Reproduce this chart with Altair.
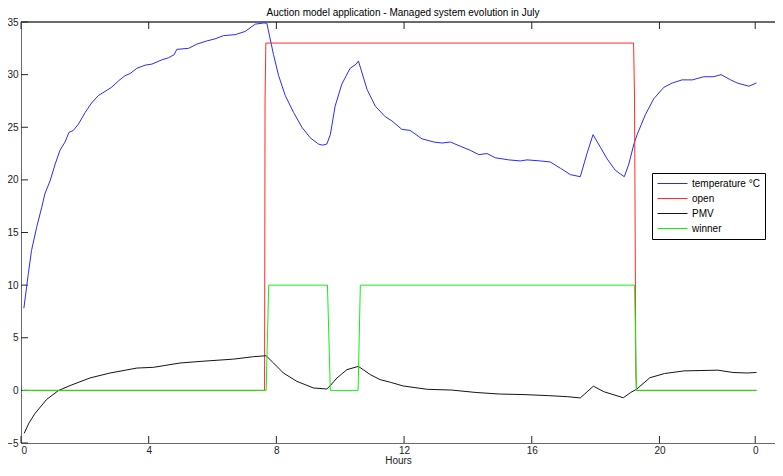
import altair as alt
import pandas as pd

TITLE = "Auction model application - Managed system evolution in July"
SERIES = ["temperature °C", "open", "PMV", "winner"]
COLORS = ["#2a2aff", "#ff2a2a", "#151515", "#10f010"]

X_TICKS = [0, 4, 8, 12, 16, 20, 23]
X_LABELS = ["0", "4", "8", "12", "16", "20", "0"]
Y_TICKS = [-5, 0, 5, 10, 15, 20, 25, 30, 35]

TEMP_H = [0.09, 0.23, 0.33, 0.49, 0.65, 0.75, 0.91, 1.07, 1.22, 1.38, 1.50, 1.64, 1.80,
          2.01, 2.21, 2.42, 2.63, 2.84, 3.05, 3.26, 3.42, 3.63, 3.89, 4.10, 4.41, 4.62,
          4.80, 4.88, 5.25, 5.51, 5.82, 6.08, 6.34, 6.71, 7.02, 7.34, 7.60, 7.70, 7.91,
          8.07, 8.28, 8.54, 8.80, 9.06, 9.32, 9.45, 9.58, 9.69, 9.84, 10.05, 10.31, 10.50,
          10.57, 10.84, 11.10, 11.41, 11.62, 11.93, 12.19, 12.56, 12.93, 13.19, 13.45,
          13.76, 14.08, 14.34, 14.60, 14.86, 15.28, 15.64, 15.85, 16.27, 16.58, 16.90,
          17.21, 17.52, 17.73, 17.92, 18.15, 18.36, 18.62, 18.90, 19.04, 19.20, 19.30,
          19.56, 19.82, 20.14, 20.40, 20.71, 21.03, 21.39, 21.70, 21.93, 22.23, 22.44,
          22.80, 23.04]
TEMP_V = [7.8, 11.1, 13.3, 15.5, 17.4, 18.7, 19.9, 21.5, 22.8, 23.6, 24.5, 24.7, 25.3,
          26.4, 27.3, 28.0, 28.4, 28.8, 29.4, 29.9, 30.1, 30.6, 30.9, 31.0, 31.4, 31.6,
          31.9, 32.4, 32.5, 32.9, 33.2, 33.4, 33.7, 33.8, 34.1, 34.8, 34.9, 34.9, 31.9,
          29.9, 28.0, 26.4, 25.0, 24.0, 23.4, 23.3, 23.4, 24.3, 27.0, 29.1, 30.6, 31.0,
          31.3, 28.6, 27.0, 26.0, 25.6, 24.8, 24.7, 23.9, 23.6, 23.5, 23.6,
          23.2, 22.8, 22.4, 22.5, 22.1, 21.9, 21.8, 21.9, 21.8, 21.7, 21.1,
          20.5, 20.3, 22.5, 24.3, 23.1, 22.0, 20.9, 20.3, 21.5, 23.4, 24.3,
          26.2, 27.7, 28.8, 29.2, 29.5, 29.5, 29.8, 29.8, 30.0, 29.5, 29.2,
          28.9, 29.2]

PMV_H = [0.10, 0.25, 0.44, 0.80, 1.17, 1.54, 2.16, 2.79, 3.63, 4.15, 4.98, 5.61, 6.66,
         7.28, 7.68, 7.91, 8.22, 8.64, 9.16, 9.58, 9.69, 9.90, 10.21, 10.57, 10.94, 11.25,
         11.57, 11.97, 12.73, 13.49, 14.25, 15.00, 15.76, 16.52, 17.13, 17.52, 17.93,
         18.26, 18.87, 19.10, 19.28, 19.70, 20.16, 20.77, 21.83, 22.30, 22.75, 23.04]
PMV_V = [-4.08, -3.1, -2.19, -0.87, -0.02, 0.46, 1.18, 1.65, 2.12, 2.19, 2.6, 2.75, 2.97,
         3.2, 3.29, 2.6, 1.65, 0.86, 0.23, 0.13, 0.46, 1.18, 1.97, 2.28, 1.5, 1.02,
         0.77, 0.42, 0.1, 0.03, -0.2, -0.35, -0.4, -0.5, -0.6, -0.72, 0.4,
         -0.13, -0.7, -0.2, 0.1, 1.2, 1.6, 1.85, 1.92, 1.7, 1.65, 1.7]

OPEN_H = [0.09, 7.63, 7.645, 7.67, 19.19, 19.22, 19.26, 19.28, 23.04]
OPEN_V = [0, 0, 27.6, 33, 33, 27.7, 1.7, 0, 0]

WIN_H = [0.05, 7.68, 7.76, 9.60, 9.69, 10.56, 10.63, 19.22, 19.28, 23.04]
WIN_V = [0, 0, 10, 10, 0, 0, 10, 10, 0, 0]

rows = []
for name, hs, vs in [(SERIES[0], TEMP_H, TEMP_V), (SERIES[1], OPEN_H, OPEN_V),
                     (SERIES[2], PMV_H, PMV_V), (SERIES[3], WIN_H, WIN_V)]:
    for i, (h, v) in enumerate(zip(hs, vs)):
        rows.append({"series": name, "h": h, "v": v, "i": i})
df = pd.DataFrame(rows)

W, H = 754, 421
XMAX = 23.62
FONT = "Liberation Sans"
TICK = 7
AXIS_GRAY = "#6a6a6a"

xscale = alt.Scale(domain=[0, XMAX], nice=False, zero=False)
yscale = alt.Scale(domain=[-5, 35], nice=False, zero=False)

lab_arr = "[" + ",".join("'%s'" % s for s in X_LABELS) + "]"
val_arr = "[" + ",".join(str(v) for v in X_TICKS) + "]"
xaxis = alt.Axis(values=X_TICKS, labelExpr=f"{lab_arr}[indexof({val_arr}, datum.value)]",
                 title="Hours", labelPadding=2, titleY=20, titleBaseline="alphabetic")
yaxis = alt.Axis(values=Y_TICKS, title=None, labelPadding=3)

lines = alt.Chart(df).mark_line(strokeWidth=1).encode(
    x=alt.X("h:Q", scale=xscale, axis=xaxis),
    y=alt.Y("v:Q", scale=yscale, axis=yaxis),
    color=alt.Color("series:N", scale=alt.Scale(domain=SERIES, range=COLORS),
                    legend=alt.Legend(title=None, orient="none", legendX=631, legendY=151,
                                      symbolType="M-1,0H5", symbolSize=100, symbolStrokeWidth=1,
                                      labelFontSize=10, labelFont=FONT, labelColor="black",
                                      padding=5, strokeColor="black", fillColor="white",
                                      rowPadding=4, labelOffset=24)),
    detail="series:N",
    order="i:Q",
)

xt = pd.DataFrame({"h": X_TICKS})
yt = pd.DataFrame({"v": Y_TICKS})
tick_color = "#262626"
bot = alt.Chart(xt).mark_rule(color=tick_color, strokeWidth=1).encode(
    x=alt.X("h:Q", scale=xscale, axis=xaxis), y=alt.value(H), y2=alt.value(H - TICK))
top = alt.Chart(xt).mark_rule(color=tick_color, strokeWidth=1).encode(
    x=alt.X("h:Q", scale=xscale, axis=xaxis), y=alt.value(0), y2=alt.value(TICK))
left = alt.Chart(yt).mark_rule(color=tick_color, strokeWidth=1).encode(
    y=alt.Y("v:Q", scale=yscale, axis=yaxis), x=alt.value(0), x2=alt.value(TICK))
frame_top = alt.Chart(xt).mark_rule(color=AXIS_GRAY, strokeWidth=1).encode(
    x=alt.value(0), x2=alt.value(W), y=alt.value(0))

chart = alt.layer(frame_top, bot, top, left, lines).properties(
    width=W, height=H,
    title=alt.Title(TITLE, fontSize=10, font=FONT, fontWeight="normal", anchor="middle",
                    baseline="alphabetic", offset=0, dx=5, dy=9, color="black"),
    autosize=alt.AutoSizeParams(type="none"),
    padding={"left": 13, "top": 14, "right": 0, "bottom": 21},
).configure_axis(
    domain=True, domainColor=AXIS_GRAY, grid=False, ticks=False, tickSize=0,
    labelFont=FONT, labelFontSize=10, labelColor="#222",
    titleFont=FONT, titleFontSize=10, titleFontWeight="normal", titleColor="#222",
).configure_view(stroke=None)

chart.save("out.html", embed_options={"renderer": "svg", "actions": False})
